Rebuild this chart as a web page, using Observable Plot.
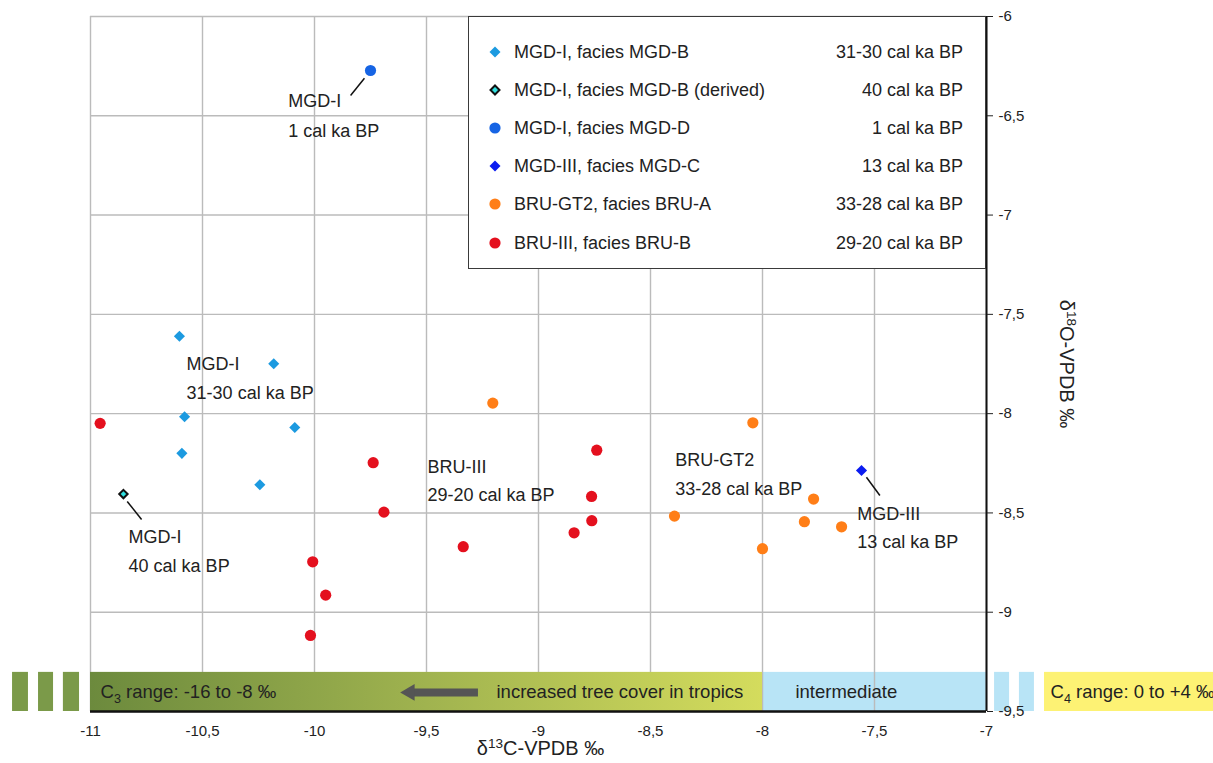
<!DOCTYPE html>
<html>
<head>
<meta charset="utf-8">
<script src="https://cdn.jsdelivr.net/npm/d3@7"></script>
<script src="https://cdn.jsdelivr.net/npm/@observablehq/plot@0.6"></script>
<style>
  body { margin: 0; background: #fff; font-family: "Liberation Sans", Arial, sans-serif; }
  #wrap { position: relative; width: 1213px; height: 763px; overflow: hidden; }
  #legend { position: absolute; left: 468px; top: 16px; width: 518px; height: 253px; box-sizing: border-box;
            border: 1.5px solid #3a3a3a; background: #fff; font-size: 18px; color: #222; }
  .row { position: absolute; left: 0; right: 0; height: 24px; line-height: 24px; }
  .row svg { position: absolute; left: 19px; top: 5px; }
  .row .name { position: absolute; left: 45px; }
  .row .age { position: absolute; right: 22px; }
</style>
</head>
<body>
<div id="wrap"></div>
<script>
// ---------- data ----------
const xTicks = [-11, -10.5, -10, -9.5, -9, -8.5, -8, -7.5, -7];
const yTicks = [-6, -6.5, -7, -7.5, -8, -8.5, -9, -9.5];

// MGD-I, facies MGD-B (31-30 cal ka BP)
const mgdB_x = [-10.603, -10.182, -10.580, -10.088, -10.592, -10.244];
const mgdB_y = [-7.610, -7.749, -8.016, -8.070, -8.200, -8.358];
// MGD-I, facies MGD-B (derived, 40 cal ka BP)
const mgdDer_x = [-10.853];
const mgdDer_y = [-8.405];
// MGD-I, facies MGD-D (1 cal ka BP)
const mgdD_x = [-9.750];
const mgdD_y = [-6.272];
// MGD-III, facies MGD-C (13 cal ka BP)
const mgdC_x = [-7.558];
const mgdC_y = [-8.286];
// BRU-GT2, facies BRU-A (33-28 cal ka BP)
const bruA_x = [-9.204, -8.043, -7.772, -8.393, -7.813, -7.647, -8.000];
const bruA_y = [-7.947, -8.046, -8.430, -8.516, -8.544, -8.570, -8.680];
// BRU-III, facies BRU-B (29-20 cal ka BP)
const bruB_x = [-10.957, -9.738, -9.690, -8.740, -8.763, -8.762, -8.841, -9.336, -10.008, -9.950, -10.018];
const bruB_y = [-8.049, -8.247, -8.496, -8.184, -8.417, -8.539, -8.600, -8.670, -8.746, -8.914, -9.117];

// legend
const seriesNames = ["MGD-I, facies MGD-B", "MGD-I, facies MGD-B (derived)", "MGD-I, facies MGD-D",
                     "MGD-III, facies MGD-C", "BRU-GT2, facies BRU-A", "BRU-III, facies BRU-B"];
const seriesAges = ["31-30 cal ka BP", "40 cal ka BP", "1 cal ka BP", "13 cal ka BP", "33-28 cal ka BP", "29-20 cal ka BP"];

// annotations
const annotText = ["MGD-I", "1 cal ka BP", "MGD-I", "31-30 cal ka BP", "MGD-I", "40 cal ka BP",
                   "BRU-III", "29-20 cal ka BP", "BRU-GT2", "33-28 cal ka BP", "MGD-III", "13 cal ka BP"];
const annotX = [-10.117, -10.117, -10.571, -10.571, -10.830, -10.830, -9.496, -9.496, -8.390, -8.390, -7.577, -7.577];
const annotY = [-6.427, -6.578, -7.752, -7.897, -8.623, -8.766, -8.268, -8.410, -8.236, -8.382, -8.506, -8.646];
const leaderX1 = [-9.839, -10.836, -7.536];
const leaderY1 = [-6.398, -8.442, -8.320];
const leaderX2 = [-9.777, -10.772, -7.476];
const leaderY2 = [-6.311, -8.533, -8.412];

// isotope range band (schematic, with breaks beyond the axis)
const bandTop = -9.303;
const bandBottom = -9.5;
const bandX1 = [-11.348, -11.232, -11.121, -11, -8, -6.964, -6.853, -6.741];
const bandX2 = [-11.277, -11.165, -11.049, -8, -7, -6.897, -6.786, -5.980];
const bandKind = ["c3small", "c3small", "c3small", "c3", "mid", "mid", "mid", "c4"];
const bandText = ["C3 range: -16 to -8 ‰", "increased tree cover in tropics", "intermediate", "C4 range: 0 to +4 ‰"];
const bandTextX = [-10.955, -9.1875, -7.853, -6.714];
const bandTextY = -9.404;
const arrowTail = [-9.268];
const arrowHeadBase = [-9.556];
const arrowTip = [-9.616];

// ---------- build ----------
const fmt = d => String(d).replace(".", ",");
const pts = (xs, ys) => xs.map((x, i) => ({x, y: ys[i]}));
const bands = bandX1.map((x1, i) => ({x1, x2: bandX2[i], kind: bandKind[i]}));
const annots = annotText.map((t, i) => ({t, x: annotX[i], y: annotY[i]}));
const leaders = leaderX1.map((x1, i) => ({x1, y1: leaderY1[i], x2: leaderX2[i], y2: leaderY2[i]}));
const btexts = bandText.map((t, i) => ({t, x: bandTextX[i], y: bandTextY}));
const bandColor = {c3small: "#7b9a49", mid: "#b8e4f6", c4: "#fdf274"};

const svg = Plot.plot({
  width: 1213, height: 763,
  marginLeft: 90, marginRight: 227, marginTop: 16, marginBottom: 52,
  x: {domain: [-11, -7], axis: null},
  y: {domain: [-9.5, -6], axis: null},
  style: {fontFamily: '"Liberation Sans", Arial, sans-serif', fontSize: "14px", color: "#222", background: "#fff", overflow: "visible"},
  marks: [
    Plot.rect(bands.filter(d => d.kind === "mid"), {x1: "x1", x2: "x2", y1: bandTop, y2: bandBottom, fill: d => bandColor[d.kind]}),
    Plot.gridX(xTicks, {stroke: "#bbbbbb", strokeOpacity: 1, strokeWidth: 1.4}),
    Plot.gridY(yTicks, {stroke: "#bbbbbb", strokeOpacity: 1, strokeWidth: 1.4}),
    Plot.rect(bands.filter(d => d.kind === "c3"), {x1: "x1", x2: "x2", y1: bandTop, y2: bandBottom, fill: "url(#c3grad)"}),
    Plot.rect(bands.filter(d => d.kind !== "c3" && d.kind !== "mid"), {x1: "x1", x2: "x2", y1: bandTop, y2: bandBottom, fill: d => bandColor[d.kind]}),
    Plot.ruleY(arrowTail, {x1: d => d, x2: arrowHeadBase[0], y: bandTextY, stroke: "#555", strokeWidth: 8}),
    Plot.dot(arrowTip, {x: d => d, y: bandTextY, dx: 9.3, symbol: "triangle", rotate: -90, r: 6.2, fill: "#555"}),
    Plot.text(btexts, {x: "x", y: "y", text: "t", textAnchor: "start", fontSize: 18.5, fill: "#222"}),
    Plot.ruleY([-9.5], {stroke: "#111", strokeWidth: 2.5}),
    Plot.ruleX([-7], {stroke: "#111", strokeWidth: 2}),
    Plot.axisX({ticks: xTicks, tickFormat: fmt, tickSize: 0, tickPadding: 14, fontSize: 15}),
    Plot.axisY({anchor: "right", ticks: yTicks, tickFormat: fmt, tickSize: 6, tickPadding: 6, fontSize: 15, label: null}),
    Plot.text(["δ13C-VPDB ‰"], {frameAnchor: "bottom", dy: 37, dx: 2, lineAnchor: "middle", textAnchor: "middle", fontSize: 20, fill: "#222"}),
    Plot.text(["δ18O-VPDB ‰"], {frameAnchor: "right", dx: 80, rotate: 90, lineAnchor: "middle", textAnchor: "middle", fontSize: 20, fill: "#222"}),
    Plot.link(leaders, {x1: "x1", y1: "y1", x2: "x2", y2: "y2", stroke: "#111", strokeWidth: 1.5}),
    Plot.text(annots, {x: "x", y: "y", text: "t", textAnchor: "start", fontSize: 18, fill: "#222"}),
    Plot.dot(pts(mgdB_x, mgdB_y), {x: "x", y: "y", symbol: "diamond2", r: 5, fill: "#1c9ae0"}),
    Plot.dot(pts(mgdDer_x, mgdDer_y), {x: "x", y: "y", symbol: "diamond2", r: 3.8, fill: "#30e0e0", stroke: "#111", strokeWidth: 2}),
    Plot.dot(pts(mgdD_x, mgdD_y), {x: "x", y: "y", r: 5.6, fill: "#1664e4"}),
    Plot.dot(pts(mgdC_x, mgdC_y), {x: "x", y: "y", symbol: "diamond2", r: 5, fill: "#0b1cf0"}),
    Plot.dot(pts(bruA_x, bruA_y), {x: "x", y: "y", r: 5.6, fill: "#ff7e17"}),
    Plot.dot(pts(bruB_x, bruB_y), {x: "x", y: "y", r: 5.6, fill: "#e4101e"})
  ]
});

// gradient for the C3 band
const defs = d3.select(svg).insert("defs", ":first-child");
const grad = defs.append("linearGradient").attr("id", "c3grad").attr("x1", "0").attr("x2", "1").attr("y1", "0").attr("y2", "0");
grad.append("stop").attr("offset", "0").attr("stop-color", "#6c8a3d");
grad.append("stop").attr("offset", "0.5").attr("stop-color", "#a0b34f");
grad.append("stop").attr("offset", "1").attr("stop-color", "#d4dc5d");

// sub/superscripts as real text
function rich(el, head, small, tail, shift) {
  const s = d3.select(el);
  s.text(null);
  s.append("tspan").text(head);
  s.append("tspan").attr("dy", shift).attr("font-size", "0.68em").text(small);
  s.append("tspan").attr("dy", -shift).text(tail);
}
d3.select(svg).selectAll("text").each(function () {
  const t = this.textContent;
  if (t === "C3 range: -16 to -8 ‰") rich(this, "C", "3", " range: -16 to -8 ‰", 5);
  else if (t === "C4 range: 0 to +4 ‰") rich(this, "C", "4", " range: 0 to +4 ‰", 5);
  else if (t === "δ13C-VPDB ‰") rich(this, "δ", "13", "C-VPDB ‰", -7);
  else if (t === "δ18O-VPDB ‰") rich(this, "δ", "18", "O-VPDB ‰", -7);
});

const wrap = document.getElementById("wrap");
wrap.appendChild(svg);

// legend (inside the plot area, top right)
const legend = document.createElement("div");
legend.id = "legend";
const markerSvg = [
  '<svg width="14" height="14"><path d="M7,1.5L12.5,7L7,12.5L1.5,7Z" fill="#1c9ae0"/></svg>',
  '<svg width="14" height="14"><path d="M7,2.5L11.5,7L7,11.5L2.5,7Z" fill="#30e0e0" stroke="#111" stroke-width="2"/></svg>',
  '<svg width="14" height="14"><circle cx="7" cy="7" r="5.6" fill="#1664e4"/></svg>',
  '<svg width="14" height="14"><path d="M7,1.5L12.5,7L7,12.5L1.5,7Z" fill="#0b1cf0"/></svg>',
  '<svg width="14" height="14"><circle cx="7" cy="7" r="5.6" fill="#ff7e17"/></svg>',
  '<svg width="14" height="14"><circle cx="7" cy="7" r="5.6" fill="#e4101e"/></svg>'
];
seriesNames.forEach((name, i) => {
  const row = document.createElement("div");
  row.className = "row";
  row.style.top = (22.5 + i * 38.2) + "px";
  row.innerHTML = markerSvg[i] + '<span class="name"></span><span class="age"></span>';
  row.querySelector(".name").textContent = name;
  row.querySelector(".age").textContent = seriesAges[i];
  legend.appendChild(row);
});
wrap.appendChild(legend);
</script>
</body>
</html>
